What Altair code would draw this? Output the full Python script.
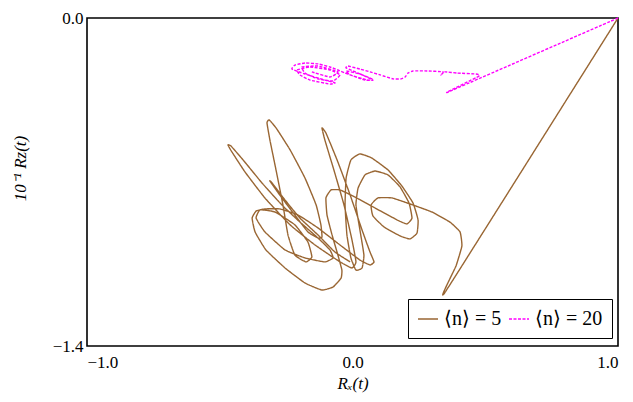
import altair as alt
import pandas as pd

# <n> = 5 trajectory (R_x, 10^-1 R_z)
n5_x = [1.0, 0.352, 0.390, 0.412, 0.405, 0.367, 0.299, 0.217, 0.149, 0.096,
        0.070, 0.077, 0.119, 0.179, 0.217, 0.243, 0.247, 0.228, 0.186, 0.134,
        0.073, 0.028, -0.006, -0.024, -0.028, -0.021, -0.006, 0.013, 0.036, 0.043,
        0.028, 0.013, 0.021, 0.047, 0.085, 0.134, 0.179, 0.213, 0.224, 0.205,
        0.168, 0.085, 0.009, -0.047, -0.081, -0.100, -0.096, -0.077, -0.055, -0.040,
        -0.043, -0.073, -0.115, -0.179, -0.254, -0.326, -0.367, -0.378, -0.363, -0.330,
        -0.273, -0.205, -0.130, -0.047, 0.028, 0.066, 0.081, 0.066, 0.036, -0.009,
        -0.058, -0.100, -0.115, -0.104, -0.070, -0.032, -0.002, 0.013, -0.002, -0.047,
        -0.141, -0.235, -0.330, -0.405, -0.454, -0.469, -0.458, -0.412, -0.341, -0.266,
        -0.198, -0.130, -0.085, -0.073, -0.104, -0.179, -0.254, -0.330, -0.363, -0.348,
        -0.292, -0.217, -0.168, -0.153, -0.175, -0.217, -0.243, -0.262, -0.288, -0.311,
        -0.322, -0.314, -0.288, -0.235, -0.179, -0.137, -0.119, -0.115, -0.130, -0.168,
        -0.217, -0.266, -0.311, -0.303, -0.254, -0.198, -0.130, -0.066, -0.009]
n5_z = [0.0, -1.165, -1.058, -0.973, -0.913, -0.871, -0.828, -0.794, -0.768, -0.768,
        -0.798, -0.845, -0.892, -0.930, -0.943, -0.918, -0.862, -0.790, -0.717, -0.649,
        -0.598, -0.580, -0.606, -0.683, -0.798, -0.926, -1.024, -1.076, -1.067, -1.012,
        -0.905, -0.798, -0.726, -0.670, -0.653, -0.670, -0.721, -0.790, -0.854, -0.879,
        -0.862, -0.811, -0.764, -0.734, -0.734, -0.768, -0.841, -0.926, -1.012, -1.076,
        -1.110, -1.148, -1.161, -1.131, -1.067, -0.990, -0.913, -0.854, -0.824, -0.815,
        -0.815, -0.841, -0.896, -0.969, -1.033, -1.054, -1.041, -0.999, -0.905, -0.755,
        -0.606, -0.491, -0.469, -0.521, -0.649, -0.798, -0.947, -1.041, -1.067, -1.041,
        -0.969, -0.883, -0.768, -0.657, -0.572, -0.542, -0.546, -0.606, -0.704, -0.798,
        -0.871, -0.939, -0.990, -1.024, -1.041, -1.024, -0.990, -0.913, -0.854, -0.819,
        -0.828, -0.883, -0.956, -1.020, -1.041, -1.012, -0.926, -0.798, -0.649, -0.521,
        -0.448, -0.435, -0.469, -0.563, -0.683, -0.798, -0.883, -0.935, -0.939, -0.913,
        -0.841, -0.768, -0.696, -0.704, -0.777, -0.854, -0.926, -0.999, -1.041]

# <n> = 20 trajectory
n20_x = [1.0, 0.360, 0.476, 0.465, 0.394, 0.348, 0.333, 0.341, 0.281, 0.228,
         0.209, 0.198, 0.183, 0.153, 0.104, 0.066, 0.028, -0.017, -0.024, 0.021,
         0.073, 0.058, -0.009, -0.024, 0.028, 0.077, 0.047, -0.028, -0.055, -0.085,
         -0.130, -0.179, -0.217, -0.228, -0.179, -0.104, -0.066, -0.085, -0.160, -0.198,
         -0.209, -0.160, -0.085, -0.047, -0.073, -0.130, -0.179, -0.190, -0.130, -0.055,
         -0.085, -0.153]
n20_z = [0.0, -0.316, -0.248, -0.239, -0.235, -0.230, -0.243, -0.230, -0.226, -0.226,
         -0.235, -0.252, -0.260, -0.260, -0.243, -0.230, -0.218, -0.205, -0.213, -0.235,
         -0.260, -0.265, -0.243, -0.226, -0.239, -0.265, -0.265, -0.235, -0.222, -0.209,
         -0.196, -0.192, -0.201, -0.218, -0.239, -0.265, -0.277, -0.282, -0.265, -0.243,
         -0.222, -0.209, -0.222, -0.243, -0.269, -0.260, -0.235, -0.209, -0.205, -0.230,
         -0.252, -0.230]

series_names = ["⟨n⟩ = 5", "⟨n⟩ = 20"]
series_colors = ["#996633", "#ff00ff"]

rows = []
for i, (a, b) in enumerate(zip(n5_x, n5_z)):
    rows.append({"x": a, "z": b, "s": series_names[0], "o": i})
for i, (a, b) in enumerate(zip(n20_x, n20_z)):
    rows.append({"x": a, "z": b, "s": series_names[1], "o": i})
df = pd.DataFrame(rows)

chart = alt.Chart(df).mark_line(
    interpolate="cardinal", tension=0.6, strokeWidth=1.4
).encode(
    x=alt.X("x:Q", scale=alt.Scale(domain=[-1.0, 1.0], nice=False, zero=False),
            axis=alt.Axis(values=[-1.0, 0.0, 1.0], format=".1f", title="Rₓ(t)",
                          grid=False, ticks=False, domain=False, labelPadding=8,
                          titleY=29, titleBaseline="top")),
    y=alt.Y("z:Q", scale=alt.Scale(domain=[-1.4, 0.0], nice=False, zero=False),
            axis=alt.Axis(values=[-1.4, 0.0], format=".1f", title="10⁻¹ Rz(t)",
                          grid=False, ticks=False, domain=False, labelPadding=4,
                          titleX=-58, titleY=150, titleAngle=270, titleAlign="center")),
    color=alt.Color("s:N", scale=alt.Scale(domain=series_names, range=series_colors),
                    legend=alt.Legend(title=None)),
    strokeDash=alt.StrokeDash("s:N", scale=alt.Scale(domain=series_names, range=[[1, 0], [3, 1.5]]),
                              legend=alt.Legend(title=None)),
    order="o:Q",
).properties(
    width=531, height=328,
    autosize=alt.AutoSizeParams(type="none"),
    padding={"left": 79, "top": 10, "right": 7, "bottom": 48},
).configure_view(
    stroke="black", strokeWidth=1.6
).configure_axis(
    labelFont="Liberation Serif", labelFontSize=17, labelColor="black",
    titleFont="Liberation Serif", titleFontSize=17, titleColor="black",
    titleFontWeight="normal", titleFontStyle="italic",
).configure_legend(
    orient="none", legendX=321, legendY=281, direction="horizontal",
    strokeColor="black", padding=9, symbolType="stroke", symbolSize=400,
    symbolStrokeWidth=1.4, labelFont="Liberation Serif", labelFontSize=20,
    labelColor="black", columnPadding=4, labelOffset=5, fillColor="white",
)

chart.save("out.html", embed_options={"renderer": "svg", "actions": False})
